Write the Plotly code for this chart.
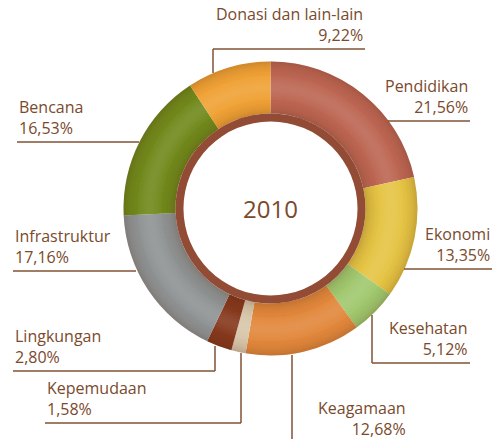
import math
import plotly.graph_objects as go

# ---- data ----
categories = ["Pendidikan", "Ekonomi", "Kesehatan", "Keagamaan", "Kepemudaan",
              "Lingkungan", "Infrastruktur", "Bencana", "Donasi dan lain-lain"]
values = [21.56, 13.35, 5.12, 12.68, 1.58, 2.80, 17.16, 16.53, 9.22]
year_label = "2010"

# ---- styles ----
slice_colors = ["#bd6653", "#e5c444", "#a0c86e", "#e2883c", "#d8c6aa",
                "#86391d", "#8f9393", "#71891c", "#f0a236"]
text_color = "#7a4a2c"
line_color = "#7f5233"
W, H = 497, 439
CX, CY = 270.5, 208.5      # donut centre (px, from top-left)
R_OUT, R_IN = 147, 95      # ring radii
R_RIM_IN = 87              # dark inner rim

# label layout (px): text anchor x, underline y, underline x-extent, vertical leader
labels_layout = {
    "Donasi dan lain-lain": dict(side="right", x=365, uy=49, ux0=213, ux1=365, vy=73),
    "Pendidikan": dict(side="right", x=470, uy=121, ux0=388, ux1=470, vy=None),
    "Ekonomi": dict(side="right", x=492, uy=269, ux0=404, ux1=492, vy=None),
    "Kesehatan": dict(side="right", x=470, uy=363, ux0=372, ux1=470, vy=315, vx=372),
    "Keagamaan": dict(side="right", x=408, uy=443, ux0=292, ux1=408, vy=355, vx=292),
    "Kepemudaan": dict(side="left", x=45, uy=423, ux0=45, ux1=241, vy=353, vx=241),
    "Lingkungan": dict(side="left", x=13, uy=371, ux0=13, ux1=215, vy=346, vx=215),
    "Infrastruktur": dict(side="left", x=13, uy=271, ux0=13, ux1=136, vy=None),
    "Bencana": dict(side="left", x=17, uy=142, ux0=17, ux1=139, vy=None),
}


def px_x(x):
    return x / W


def px_y(y):
    return 1 - y / H


def dom(r):
    return dict(x=[px_x(CX - r), px_x(CX + r)], y=[px_y(CY + r), px_y(CY - r)])


def band(r_outer, r_inner, color):
    return go.Pie(values=[1], sort=False, hole=r_inner / r_outer, domain=dom(r_outer),
                  marker=dict(colors=[color], line=dict(width=0)),
                  textinfo="none", hoverinfo="skip", showlegend=False)


fig = go.Figure()
fig.add_trace(go.Pie(
    labels=categories, values=values, sort=False, direction="clockwise", rotation=0,
    hole=R_IN / R_OUT, domain=dom(R_OUT),
    marker=dict(colors=slice_colors, line=dict(width=0)),
    textinfo="none", hoverinfo="label+percent", showlegend=False,
))
# smooth tube shading: thin concentric overlay bands
STEP = 2
r = R_IN
while r < R_OUT:
    r2 = min(r + STEP, R_OUT)
    t = ((r + r2) / 2 - R_IN) / (R_OUT - R_IN)
    s = math.sin(math.pi * t)
    dark = 0.20 * (1 - s) ** 2
    light = 0.10 * s ** 6
    if dark > light:
        col = f"rgba(70,30,10,{dark:.3f})"
    else:
        col = f"rgba(255,255,255,{light:.3f})"
    fig.add_trace(band(r2, r, col))
    r = r2
# dark inner rim
fig.add_trace(band(R_IN, R_RIM_IN, "#924b35"))

shapes = []
annotations = []
for cat, val in zip(categories, values):
    L = labels_layout[cat]
    pct = f"{val:.2f}".replace(".", ",") + "%"
    annotations.append(dict(
        x=px_x(L["x"]), y=px_y(L["uy"] - 1), xref="paper", yref="paper",
        xanchor=L["side"], yanchor="bottom", align=L["side"],
        text=f"{cat}<br>{pct}", showarrow=False,
        font=dict(family="Open Sans", size=16, color=text_color),
    ))
    shapes.append(dict(type="line", xref="paper", yref="paper",
                       x0=px_x(L["ux0"]), x1=px_x(L["ux1"]),
                       y0=px_y(L["uy"]), y1=px_y(L["uy"]),
                       line=dict(color=line_color, width=1.5)))
    if L.get("vy") is not None:
        vx = L.get("vx", L["ux0"])
        shapes.append(dict(type="line", xref="paper", yref="paper",
                           x0=px_x(vx), x1=px_x(vx),
                           y0=px_y(L["uy"]), y1=px_y(L["vy"]),
                           line=dict(color=line_color, width=1.5)))

annotations.append(dict(
    x=px_x(CX), y=px_y(CY), xref="paper", yref="paper",
    xanchor="center", yanchor="middle", text=year_label, showarrow=False,
    font=dict(family="Open Sans", size=24, color=text_color),
))

fig.update_layout(
    width=W, height=H, margin=dict(l=0, r=0, t=0, b=0),
    paper_bgcolor="white", plot_bgcolor="white",
    shapes=shapes, annotations=annotations, showlegend=False,
)
fig.write_html("out.html", config={"displayModeBar": False},
               post_script="document.body.style.margin='0';document.body.style.overflow='hidden';")
